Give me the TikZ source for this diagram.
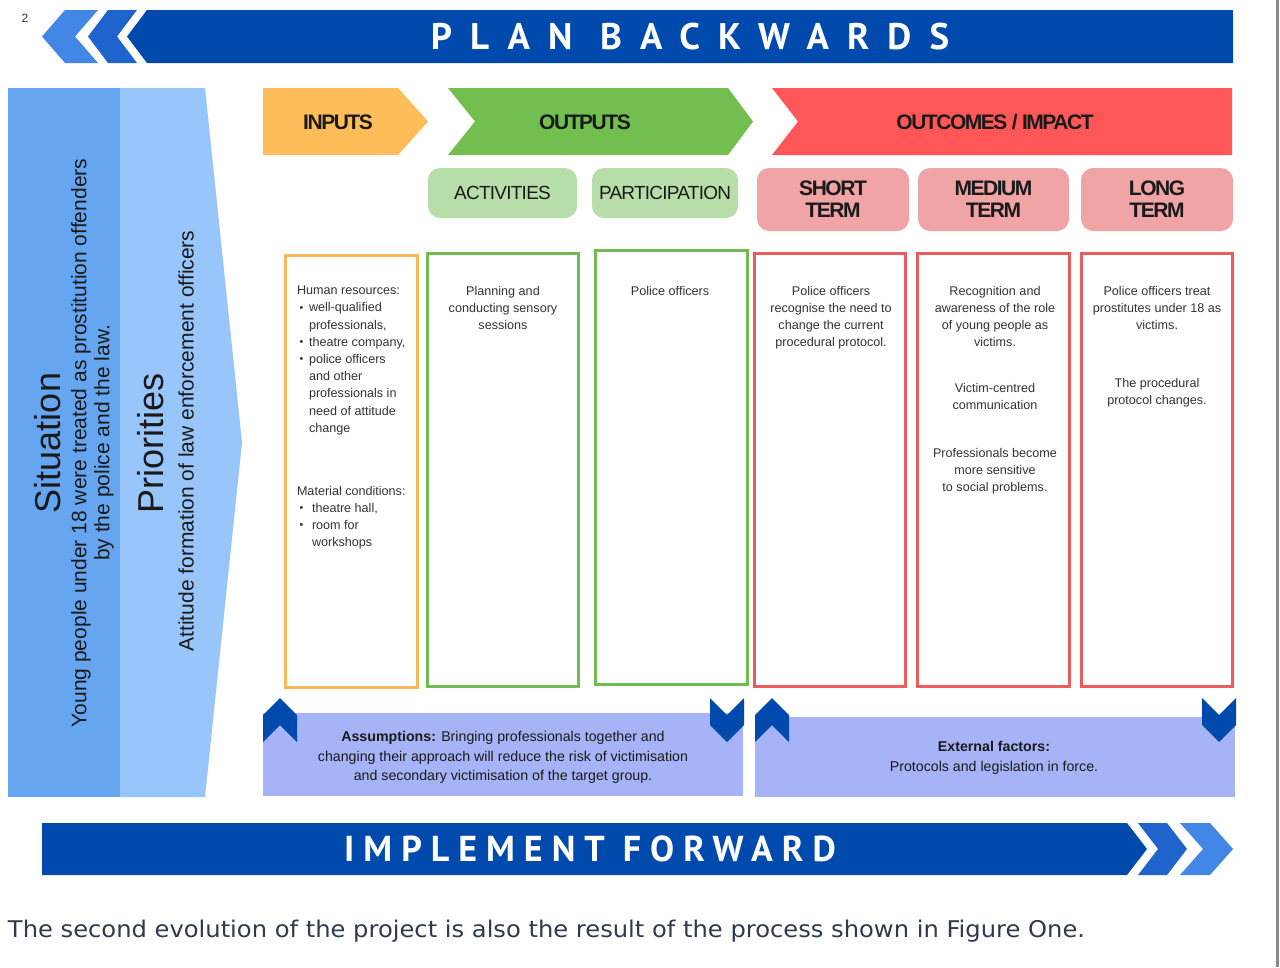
\documentclass[tikz,border=0pt]{standalone}
\usepackage{fontspec}
\setmainfont{Liberation Sans}
\newfontfamily\bannerfont{PT Sans}
\newfontfamily\capfont{DejaVu Sans}

\definecolor{bannerblue}{HTML}{004AAD}
\definecolor{chevmid}{HTML}{1F63CC}
\definecolor{chevlight}{HTML}{4287E6}
\definecolor{sitblue}{HTML}{66A6F0}
\definecolor{prioblue}{HTML}{98C5FA}
\definecolor{inorange}{HTML}{FFBD59}
\definecolor{outgreen}{HTML}{72BF4F}
\definecolor{outred}{HTML}{FF5757}
\definecolor{pillgreen}{HTML}{B7DDA8}
\definecolor{pillpink}{HTML}{F0A4A5}
\definecolor{lineorange}{HTML}{F8BA55}
\definecolor{linegreen}{HTML}{71BC50}
\definecolor{linered}{HTML}{EC5C5C}
\definecolor{lavender}{HTML}{A6B3F6}
\definecolor{bodygray}{HTML}{333333}
\definecolor{inkdark}{HTML}{1A1A1A}
\definecolor{captionink}{HTML}{2F3B4C}
\definecolor{pageedge}{HTML}{8A8A8A}

% bullet marks for the inputs list
\newcommand\bulmark{\makebox[12pt][l]{\hspace*{2.5pt}\raisebox{0.6pt}{\scalebox{0.85}{\textbullet}}}}
\newcommand\bulgap{\hspace*{12pt}}
\newcommand\bulmarkb{\makebox[15pt][l]{\hspace*{2.5pt}\raisebox{0.6pt}{\scalebox{0.85}{\textbullet}}}}
\newcommand\bulgapb{\hspace*{15pt}}

\begin{document}
\begin{tikzpicture}[x=1pt,y=-1pt,
  every node/.style={inner sep=0pt,outer sep=0pt},
  colbox/.style={draw,line width=3pt,fill=white},
  bodytext/.style={anchor=north,align=center,text=bodygray,font=\fontsize{12.6}{17.2}\selectfont},
  listtext/.style={anchor=north west,align=left,text=bodygray,font=\fontsize{12.6}{17.2}\selectfont},
  hdrtext/.style={text=inkdark,font=\bfseries\fontsize{21}{22}\selectfont\addfontfeature{LetterSpace=-7}},
  greenpill/.style={fill=pillgreen,rounded corners=12pt,minimum height=50pt,text=inkdark,
    font=\fontsize{19}{20}\selectfont\addfontfeature{LetterSpace=-4}},
  pinkpill/.style={fill=pillpink,rounded corners=12pt,minimum height=63pt,text=inkdark,align=center,
    font=\bfseries\fontsize{21}{22}\selectfont\addfontfeature{LetterSpace=-7}},
  notebox/.style={fill=lavender},
  notetext/.style={anchor=north,align=center,text=inkdark,font=\fontsize{14.2}{19.7}\selectfont},
  sidetitle/.style={rotate=90,text=inkdark,font=\fontsize{36}{40}\selectfont},
  sidetext/.style={rotate=90,text=inkdark,align=center,font=\fontsize{21}{23}\selectfont},
  bannertext/.style={text=white,font=\bannerfont\bfseries},
  chevup/.pic={\fill[bannerblue] (0,17) -- (17,0) -- (34,17) -- (34,44) -- (17,27) -- (0,44) -- cycle;},
  chevdown/.pic={\fill[bannerblue] (0,0) -- (17,17) -- (34,0) -- (34,27) -- (17,44) -- (0,27) -- cycle;}
]
\useasboundingbox (0,0) rectangle (1280,967);
\fill[white] (0,0) rectangle (1280,967);

% page number and page edge
\node[text=bodygray,font=\fontsize{12}{14}\selectfont] (pgnum) at (25,18) {2};
\fill[pageedge] (1275.5,0) rectangle (1278.5,967);

% top banner with left chevrons
\fill[chevlight] (65,10) -- (98,10) -- (75,36.5) -- (98,63) -- (65,63) -- (42,36.5) -- cycle;
\fill[chevmid] (108,10) -- (137,10) -- (117,36.5) -- (137,63) -- (108,63) -- (88,36.5) -- cycle;
\fill[bannerblue] (147,10) -- (1233,10) -- (1233,63) -- (147,63) -- (127,36.5) -- cycle;
\node[bannertext,font=\bannerfont\bfseries\fontsize{37}{38}\selectfont\addfontfeature{LetterSpace=49}]
  (plan) at (690,36.5) {PLAN BACKWARDS};

% situation and priorities column
\fill[sitblue] (8,88) rectangle (120,797);
\fill[prioblue] (120,88) -- (205,88) -- (242,442.5) -- (205,797) -- (120,797) -- cycle;
\node[sidetitle] (sit) at (48,443) {Situation};
\node[sidetext] (sitdesc) at (92.5,443) {Young people under 18 were treated as prostitution offenders\\by the police and the law.};
\node[sidetitle] (prio) at (151,443) {Priorities};
\node[sidetext] (priodesc) at (186,441) {Attitude formation of law enforcement officers};

% header arrows
\fill[inorange] (263,88) -- (398,88) -- (428,121.5) -- (398,155) -- (263,155) -- cycle;
\fill[outgreen] (448,88) -- (728,88) -- (753,121.5) -- (728,155) -- (448,155) -- (475,121.5) -- cycle;
\fill[outred] (772,88) -- (1232,88) -- (1232,155) -- (772,155) -- (798,121.5) -- cycle;
\node[hdrtext] (inputs) at (338,122) {INPUTS};
\node[hdrtext] (outputs) at (585,122) {OUTPUTS};
\node[hdrtext] (outcomes) at (995,122) {OUTCOMES / IMPACT};

% sub-headers
\node[greenpill,minimum width=149pt] (activities) at (502.5,193) {ACTIVITIES};
\node[greenpill,minimum width=146pt] (participation) at (665,193) {PARTICIPATION};
\node[pinkpill,minimum width=152pt] (short) at (833,199.5) {SHORT\\TERM};
\node[pinkpill,minimum width=151pt] (medium) at (993.5,199.5) {MEDIUM\\TERM};
\node[pinkpill,minimum width=152pt] (long) at (1157,199.5) {LONG\\TERM};

% columns
\node[colbox,draw=lineorange,minimum width=132pt,minimum height=432pt] (colin) at (351,471) {};
\node[colbox,draw=linegreen,minimum width=151pt,minimum height=433pt] (colact) at (502.5,469.5) {};
\node[colbox,draw=linegreen,minimum width=152pt,minimum height=434pt] (colpar) at (671,467) {};
\node[colbox,draw=linered,minimum width=151pt,minimum height=433pt] (colshort) at (829.5,469.5) {};
\node[colbox,draw=linered,minimum width=152pt,minimum height=433pt] (colmed) at (993,469.5) {};
\node[colbox,draw=linered,minimum width=151pt,minimum height=433pt] (collong) at (1156.5,469.5) {};

% column contents
\node[listtext] (inhuman) at (297,286) {Human resources:\\
  \bulmark well-qualified\\
  \bulgap professionals,\\
  \bulmark theatre company,\\
  \bulmark police officers\\
  \bulgap and other\\
  \bulgap professionals in\\
  \bulgap need of attitude\\
  \bulgap change};
\node[listtext] (inmaterial) at (297,486) {Material conditions:\\
  \bulmarkb theatre hall,\\
  \bulmarkb room for\\
  \bulgapb workshops};
\node[bodytext] (acttext) at (503,286) {Planning and\\conducting sensory\\sessions};
\node[bodytext] (partext) at (670,286) {Police officers};
\node[bodytext] (shorttext) at (831,286) {Police officers\\recognise the need to\\change the current\\procedural protocol.};
\node[bodytext] (medtexta) at (995,286) {Recognition and\\awareness of the role\\of young people as\\victims.};
\node[bodytext] (medtextb) at (995,383) {Victim-centred\\communication};
\node[bodytext] (medtextc) at (995,448) {Professionals become\\more sensitive\\to social problems.};
\node[bodytext] (longtexta) at (1157,286) {Police officers treat\\prostitutes under 18 as\\victims.};
\node[bodytext] (longtextb) at (1157,378) {The procedural\\protocol changes.};

% assumptions and external factors
\node[notebox,minimum width=480pt,minimum height=83pt] (assume) at (503,754.5) {};
\node[notebox,minimum width=480pt,minimum height=80pt] (external) at (995,757) {};
\pic at (263,698) {chevup};
\pic at (710,698) {chevdown};
\pic at (755,698) {chevup};
\pic at (1202,698) {chevdown};
\node[notetext] (assumetext) at (503,731) {\textbf{Assumptions:} Bringing professionals together and\\
  changing their approach will reduce the risk of victimisation\\
  and secondary victimisation of the target group.};
\node[notetext] (externaltext) at (994,741) {\textbf{External factors:}\\Protocols and legislation in force.};

% bottom banner with right chevrons
\fill[bannerblue] (42,823) -- (1127,823) -- (1147,849) -- (1127,875) -- (42,875) -- cycle;
\fill[chevmid] (1138,823) -- (1167,823) -- (1187,849) -- (1167,875) -- (1138,875) -- (1158,849) -- cycle;
\fill[chevlight] (1180,823) -- (1210,823) -- (1233,849) -- (1210,875) -- (1180,875) -- (1203,849) -- cycle;
\node[bannertext,font=\bannerfont\bfseries\fontsize{36}{38}\selectfont\addfontfeature{LetterSpace=25}]
  (forward) at (590,849) {IMPLEMENT FORWARD};

% caption
\node[anchor=base west,text=captionink] (caption) at (8,937)
  {\resizebox{1077pt}{\height}{\capfont\fontsize{23}{27}\selectfont The second evolution of the project is also the result of the process shown in Figure One.}};
\end{tikzpicture}
\end{document}
